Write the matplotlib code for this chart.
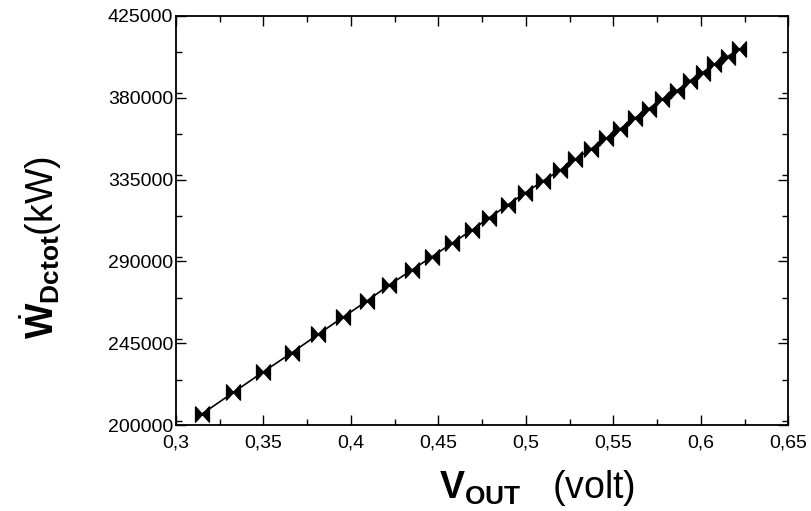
import numpy as np
import matplotlib
matplotlib.use('Agg')
import matplotlib.pyplot as plt
from matplotlib.path import Path
from matplotlib.ticker import MultipleLocator, FuncFormatter

# data
v_out = [0.3147, 0.3328, 0.3499, 0.3662, 0.3812, 0.3953, 0.4091,
         0.4218, 0.4348, 0.4463, 0.4577, 0.4692, 0.4791, 0.4896, 0.4997, 0.5098, 0.5197,
         0.5282, 0.5372, 0.5459, 0.5539, 0.5621, 0.5701, 0.5779, 0.5863, 0.5939,
         0.6010, 0.6076, 0.6153, 0.6221]
w_dctot = [206050, 217990, 229320, 239770, 249890, 259240, 268210,
           277010, 285270, 292580, 299950, 307270, 314030, 321040, 327790, 334220, 340270,
           346160, 351830, 357710, 362830, 368720, 373830, 379170, 383900, 389400,
           393800, 398420, 402600, 406840]
x_ticks = [0.3, 0.35, 0.4, 0.45, 0.5, 0.55, 0.6, 0.65]
y_ticks = [200000, 245000, 290000, 335000, 380000, 425000]

plt.rcParams['font.family'] = ['Liberation Sans', 'DejaVu Sans']
plt.rcParams['mathtext.fontset'] = 'custom'
plt.rcParams['mathtext.rm'] = 'Liberation Sans'
plt.rcParams['mathtext.bf'] = 'Liberation Sans:bold'

# bowtie marker: two triangles meeting at the point
bowtie = Path([(-1, -1.1), (0, 0), (-1, 1.1), (-1, -1.1), (1, 1.1), (0, 0), (1, -1.1), (1, 1.1)],
              [Path.MOVETO, Path.LINETO, Path.LINETO, Path.CLOSEPOLY,
               Path.MOVETO, Path.LINETO, Path.LINETO, Path.CLOSEPOLY])

fig = plt.figure(figsize=(8.11, 5.11), dpi=100)
ax = fig.add_axes([0.217, 0.168, 0.755, 0.801])
ax.plot(v_out, w_dctot, color='black', lw=1.2, marker=bowtie, markersize=11,
        markerfacecolor='black', markeredgecolor='black')

ax.set_xlim(0.3, 0.65)
ax.set_ylim(200000, 425000)
ax.set_xticks(x_ticks)
ax.set_yticks(y_ticks)
ax.xaxis.set_minor_locator(MultipleLocator(0.025))
ax.yaxis.set_minor_locator(MultipleLocator(22500))
ax.xaxis.set_major_formatter(FuncFormatter(lambda v, p: ('%g' % round(v, 3)).replace('.', ',')))
ax.tick_params(which='both', direction='in', top=True, right=True, width=1.0, labelsize=14)
ax.tick_params(which='major', length=7)
ax.tick_params(which='minor', length=4)
ax.tick_params(axis='x', pad=7)
ax.tick_params(axis='y', pad=2)
for s in ax.spines.values():
    s.set_linewidth(1.3)

fig.text(0.05, 0.515, r'$\dot{\mathbf{W}}_{\mathbf{Dctot}}$(kW)', rotation=90,
         ha='center', va='center', fontsize=27)
fig.text(0.662, 0.045, r'$\mathbf{V}_{\mathbf{OUT}}$   (volt)', ha='center', va='center',
         fontsize=27)

fig.savefig('out.png', dpi=100)
